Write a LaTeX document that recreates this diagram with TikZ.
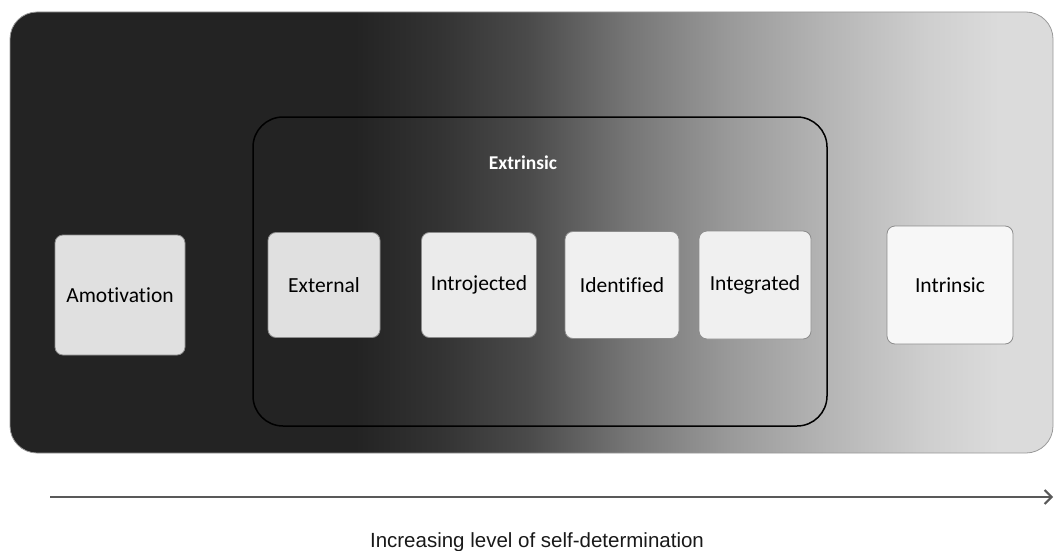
\documentclass[tikz,border=0pt]{standalone}
\usepackage{fontspec}
\setmainfont{Carlito}[Ligatures=NoCommon]
\newfontfamily\axisfont{Liberation Sans}
\usepackage{tikz}
\usetikzlibrary{positioning, arrows.meta}

% dark on the left, light on the right
\pgfdeclarehorizontalshading{selfdetshade}{100bp}{%
  rgb(0bp)=(0.137,0.137,0.137); rgb(41.5bp)=(0.137,0.137,0.137);
  rgb(45.6bp)=(0.2,0.2,0.2); rgb(49.8bp)=(0.29,0.29,0.29);
  rgb(54.6bp)=(0.46,0.46,0.46); rgb(59.4bp)=(0.6,0.6,0.6);
  rgb(64.2bp)=(0.71,0.71,0.71); rgb(69bp)=(0.81,0.81,0.81);
  rgb(72.5bp)=(0.86,0.86,0.86); rgb(100bp)=(0.86,0.86,0.86)}

\begin{document}
\begin{tikzpicture}[
        x=1pt, y=-1pt,
        on grid,
        >={Straight Barb[length=7pt,width=14pt]},
        motbox/.style={rectangle, rounded corners=8pt, draw=black!45, line width=0.8pt, inner sep=0pt,
          font=\fontsize{21.5}{24}\selectfont, text=black}, 
        groupname/.style={font=\bfseries\fontsize{19.5}{22}\selectfont, text=white},
        axislabel/.style={font=\axisfont\fontsize{20.5}{24}\selectfont, text=black!90} % bottom caption
      ]
        \useasboundingbox (0,0) rectangle (1054,551);

        % Gradient panel
        \shadedraw[shading=selfdetshade, draw=black!40, line width=0.8pt, rounded corners=27pt] (10,12) rectangle (1053,453);

        % Extrinsic group frame
        \draw[black, line width=1.5pt, rounded corners=30pt] (253,117) rectangle (827,426);
        \node[groupname] (g_extrinsic) at (523,163) {Extrinsic};

        % Motivation types, left to right
        \node[motbox, fill=black!12, minimum width=130pt, minimum height=120pt] (m_amotivation) at (120,295) {Amotivation};
        \node[motbox, fill=black!12, minimum width=112pt, minimum height=105pt] (m_external) at (324,285) {External};
        \node[motbox, fill=black!8, minimum width=115pt, minimum height=105pt, right=155pt of m_external] (m_introjected) {Introjected};
        \node[motbox, fill=black!6, minimum width=114pt, minimum height=107pt, right=143pt of m_introjected] (m_identified) {Identified};
        \node[motbox, fill=black!6, minimum width=112pt, minimum height=108pt, right=133pt of m_identified] (m_integrated) {Integrated};
        \node[motbox, fill=black!3, minimum width=126pt, minimum height=118pt, right=195pt of m_integrated] (m_intrinsic) {Intrinsic};

        % Axis
        \coordinate (axis_start) at (50,497);
        \coordinate (axis_end) at (1053,497);
        \draw[->, draw=black!65, line width=2pt] (axis_start) -- (axis_end);
        \node[axislabel] (axis_label) at (537,542) {Increasing level of self-determination};

    \end{tikzpicture}
\end{document}
